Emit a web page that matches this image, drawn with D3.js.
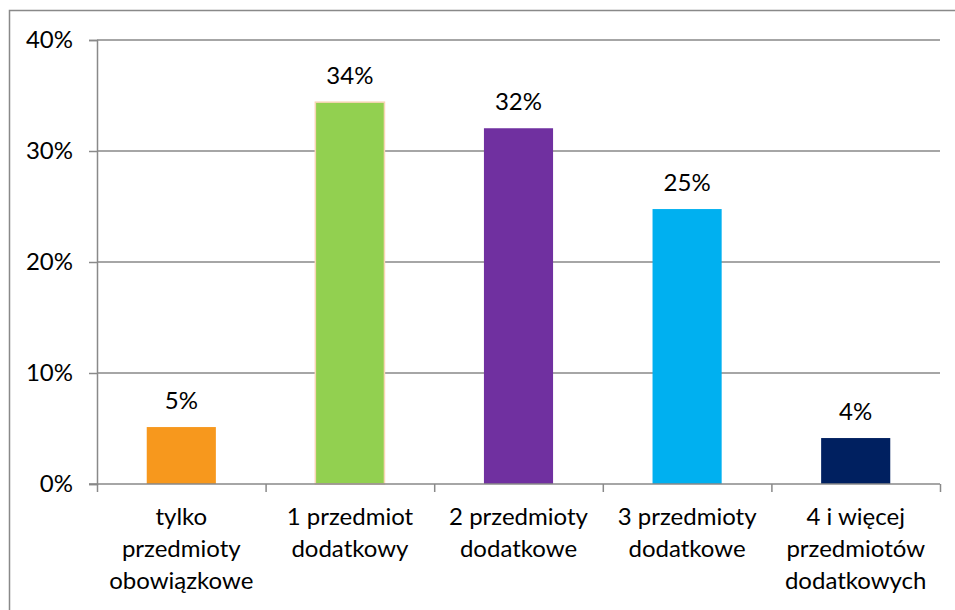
<!DOCTYPE html>
<html>
<head>
<meta charset="utf-8">
<script src="https://cdn.jsdelivr.net/npm/d3@7"></script>
<style>
  body { margin: 0; background: #fff; }
  svg { display: block; font-family: Lato, "Open Sans", sans-serif; }
</style>
</head>
<body>
<svg id="chart"></svg>
<script>
// data
var categories = ["tylko przedmioty obowiązkowe", "1 przedmiot dodatkowy", "2 przedmioty dodatkowe", "3 przedmioty dodatkowe", "4 i więcej przedmiotów dodatkowych"]
var labelLines = [
  ["tylko", "przedmioty", "obowiązkowe"],
  ["1 przedmiot", "dodatkowy"],
  ["2 przedmioty", "dodatkowe"],
  ["3 przedmioty", "dodatkowe"],
  ["4 i więcej", "przedmiotów", "dodatkowych"]
]
var values = [0.0513, 0.344, 0.3205, 0.2477, 0.0414]
var barColors = ["#F7981D", "#92D050", "#7030A0", "#00B0F0", "#002060"]
var yTicks = [0, 0.1, 0.2, 0.3, 0.4]

var dimensions = {
  width: 955,
  height: 610,
  margin: { top: 40, bottom: 126, left: 97, right: 15 }
}

var fontSize = 24
var gray = "#898989"

var svg = d3.select("#chart")
  .attr("width", dimensions.width)
  .attr("height", dimensions.height)

// chart border
svg.append("rect")
  .attr("x", 9.5).attr("y", 10.5)
  .attr("width", 960).attr("height", 620)
  .attr("fill", "none")
  .attr("stroke", gray)
  .attr("stroke-width", 1.5)

var xScale = d3.scaleBand()
  .domain(categories)
  .range([dimensions.margin.left, dimensions.width - dimensions.margin.right])
  .paddingInner(0.59)
  .paddingOuter(0.295)

var yScale = d3.scaleLinear()
  .domain([0, 0.4])
  .range([dimensions.height - dimensions.margin.bottom, dimensions.margin.top])

var xLeft = dimensions.margin.left
var xRight = dimensions.width - dimensions.margin.right
var yBase = yScale(0)

// gridlines
svg.append("g")
  .selectAll("line")
  .data(yTicks.filter(d => d > 0))
  .enter()
  .append("line")
    .attr("x1", xLeft).attr("x2", xRight)
    .attr("y1", d => yScale(d)).attr("y2", d => yScale(d))
    .attr("stroke", gray)
    .attr("stroke-width", 1.5)

// y axis
var yAxisGen = d3.axisLeft(yScale)
  .tickValues(yTicks)
  .tickFormat(d3.format(".0%"))
  .tickSize(8)
  .tickPadding(16)
var yAxis = svg.append("g")
  .attr("transform", `translate(${xLeft},0)`)
  .call(yAxisGen)
yAxis.select(".domain").attr("stroke", gray).attr("stroke-width", 1.5)
yAxis.selectAll(".tick line").attr("stroke", gray).attr("stroke-width", 1.5)
yAxis.selectAll(".tick text")
  .attr("font-size", fontSize)
  .attr("fill", "#000")
  .attr("font-family", "Lato, sans-serif")
  .attr("dy", "0.33em")

// bars
svg.append("g")
  .selectAll("rect")
  .data(values)
  .enter()
  .append("rect")
    .attr("x", (d, i) => xScale(categories[i]))
    .attr("y", d => yScale(d))
    .attr("width", xScale.bandwidth())
    .attr("height", d => yBase - yScale(d))
    .attr("fill", (d, i) => barColors[i])
    .attr("stroke", (d, i) => i == 1 ? "#F8D5B4" : "none")
    .attr("stroke-width", 1.5)

// x axis: ticks at category boundaries
var boundScale = d3.scaleLinear().domain([0, categories.length]).range([xLeft, xRight])
var xAxisGen = d3.axisBottom(boundScale)
  .ticks(categories.length)
  .tickFormat("")
  .tickSize(8)
  .tickSizeOuter(8)
var xAxis = svg.append("g")
  .attr("transform", `translate(0,${yBase})`)
  .call(xAxisGen)
xAxis.select(".domain").attr("stroke", gray).attr("stroke-width", 1.5)
  .attr("d", `M${xLeft - 8},0H${xRight}`)
xAxis.selectAll(".tick line").attr("stroke", gray).attr("stroke-width", 1.5)

// value labels
svg.append("g")
  .selectAll("text")
  .data(values)
  .enter()
  .append("text")
    .attr("x", (d, i) => xScale(categories[i]) + xScale.bandwidth() / 2)
    .attr("y", d => yScale(d) - 18)
    .attr("text-anchor", "middle")
    .attr("font-size", fontSize)
    .attr("fill", "#000")
    .text(d => d3.format(".0%")(d))

// category labels
var catG = svg.append("g")
labelLines.forEach((lines, i) => {
  var t = catG.append("text")
    .attr("text-anchor", "middle")
    .attr("font-size", fontSize)
    .attr("fill", "#000")
  lines.forEach((line, j) => {
    t.append("tspan")
      .attr("x", xScale(categories[i]) + xScale.bandwidth() / 2)
      .attr("y", yBase + 41 + j * 32)
      .text(line)
  })
})
</script>
</body>
</html>
